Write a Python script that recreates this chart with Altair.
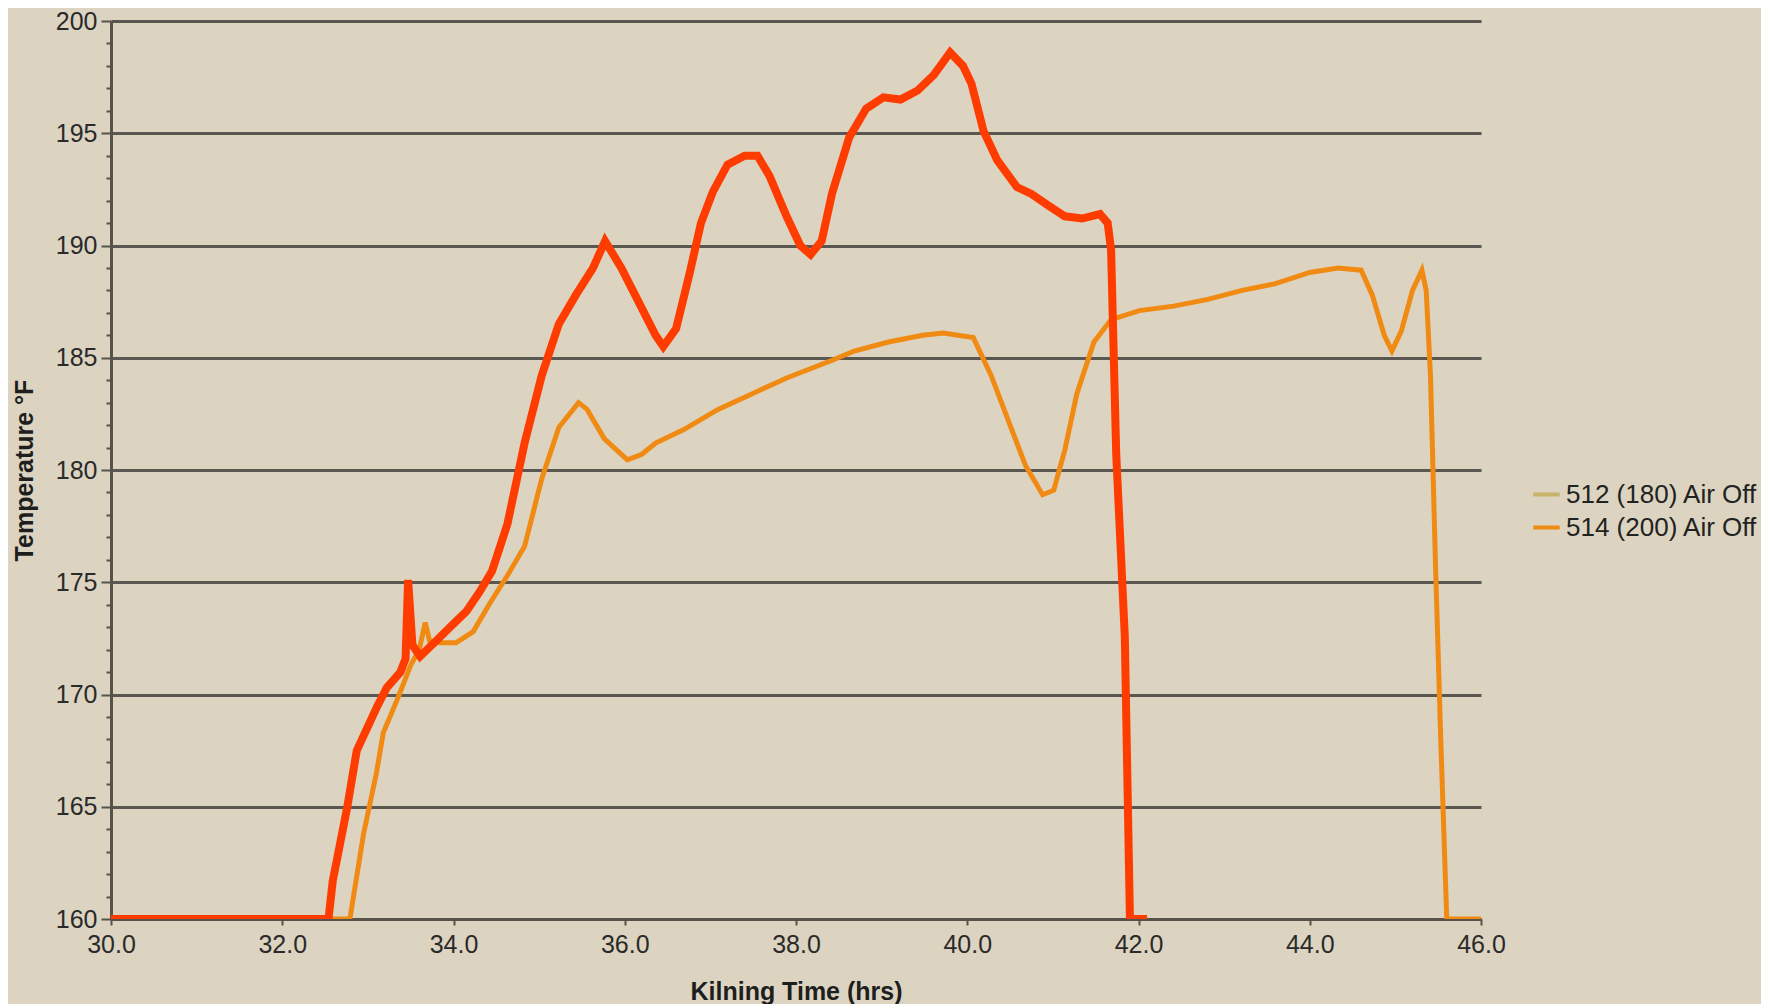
import altair as alt
import pandas as pd

# Red trace (not listed in the legend)
red_t = [30.0, 32.54, 32.59, 32.76, 32.87, 33.10, 33.22, 33.38, 33.44, 33.47, 33.52, 33.61,
         33.80, 33.96, 34.15, 34.31, 34.45, 34.63, 34.83, 35.03, 35.23, 35.43, 35.63, 35.77,
         35.96, 36.16, 36.36, 36.45, 36.60, 36.76, 36.89, 37.03, 37.20, 37.40, 37.55, 37.69,
         37.89, 38.05, 38.17, 38.30, 38.42, 38.62, 38.82, 39.02, 39.22, 39.42, 39.61, 39.80,
         39.95, 40.05, 40.19, 40.35, 40.58, 40.75, 40.94, 41.14, 41.34, 41.55, 41.64, 41.68,
         41.74, 41.84, 41.90, 42.10]
red_T = [160, 160, 161.7, 165.0, 167.5, 169.4, 170.3, 171.0, 171.6, 175.1, 172.2, 171.7,
         172.4, 173.0, 173.7, 174.6, 175.5, 177.6, 181.2, 184.2, 186.5, 187.8, 189.0, 190.2,
         189.0, 187.5, 186.0, 185.5, 186.3, 188.8, 191.0, 192.4, 193.6, 194.0, 194.0, 193.1,
         191.3, 190.0, 189.6, 190.2, 192.3, 194.8, 196.1, 196.6, 196.5, 196.9, 197.6, 198.6,
         198.0, 197.2, 195.1, 193.8, 192.6, 192.3, 191.8, 191.3, 191.2, 191.4, 191.0, 189.8,
         180.7, 172.6, 160, 160]

# Orange trace
org_t = [30.0, 32.79, 32.95, 33.10, 33.18, 33.34, 33.50, 33.60, 33.67, 33.72, 33.83, 34.03,
         34.23, 34.43, 34.63, 34.83, 35.03, 35.23, 35.46, 35.56, 35.76, 36.03, 36.20, 36.36,
         36.69, 37.09, 37.49, 37.89, 38.43, 38.68, 39.08, 39.48, 39.72, 40.07, 40.28, 40.48,
         40.68, 40.88, 41.01, 41.14, 41.28, 41.48, 41.68, 42.01, 42.41, 42.81, 43.21, 43.60,
         44.00, 44.33, 44.60, 44.73, 44.87, 44.96, 45.07, 45.20, 45.31, 45.36, 45.41, 45.47,
         45.53, 45.60, 46.0]
org_T = [160, 160, 163.8, 166.5, 168.3, 169.75, 171.3, 172.0, 173.2, 172.4, 172.3, 172.3,
         172.8, 174.1, 175.3, 176.6, 179.6, 181.9, 183.0, 182.7, 181.4, 180.45, 180.7, 181.2,
         181.8, 182.7, 183.4, 184.1, 184.9, 185.3, 185.7, 186.0, 186.1, 185.9, 184.2, 182.2,
         180.2, 178.9, 179.1, 180.9, 183.4, 185.7, 186.7, 187.1, 187.3, 187.6, 188.0, 188.3,
         188.8, 189.0, 188.9, 187.8, 186.0, 185.3, 186.2, 188.0, 188.9, 188.0, 184.2, 175.6,
         168.0, 160, 160]

series_names = ["512 (180) Air Off", "514 (200) Air Off"]
legend_colors = ["#C8B468", "#F08A12"]
red_color = "#FF3C00"
x_ticks = [30, 32, 34, 36, 38, 40, 42, 44, 46]
y_ticks = list(range(160, 201))

red_df = pd.DataFrame({"t": red_t, "T": red_T})
org_df = pd.DataFrame({"t": org_t, "T": org_T, "series": series_names[1]})

FONT = "Liberation Sans"
AXIS_COL = "#57534B"

x_enc = alt.X(
    "t:Q",
    scale=alt.Scale(domain=[30, 46], nice=False, zero=False),
    title="Kilning Time (hrs)",
    axis=alt.Axis(values=x_ticks, format=".1f", grid=False, tickSize=6,
                  labelPadding=7, titlePadding=22, labelFlush=False, labelOverlap=False),
)
major = "datum.value % 5 === 0"
y_enc = alt.Y(
    "T:Q",
    scale=alt.Scale(domain=[160, 200], nice=False, zero=False),
    title="Temperature °F",
    axis=alt.Axis(
        values=y_ticks, format="d",
        labelExpr="datum.value % 5 === 0 ? datum.label : ''",
        tickSize={"condition": {"test": major, "value": 10}, "value": 5},
        grid=True, gridColor="#5A5650", gridWidth=3,
        gridOpacity={"condition": {"test": major, "value": 1}, "value": 0},
        labelPadding=4, titlePadding=18, labelFlush=False, labelOverlap=False,
    ),
)

orange = alt.Chart(org_df).mark_line(strokeWidth=5, clip=True).encode(
    x=x_enc, y=y_enc,
    color=alt.Color(
        "series:N",
        scale=alt.Scale(domain=series_names, range=legend_colors),
        legend=alt.Legend(
            title=None, orient="none", legendX=1420, legendY=458,
            labelFont=FONT, labelFontSize=26, labelColor="#222222", labelLimit=0,
            symbolType="stroke", symbolStrokeWidth=4, symbolSize=700,
            rowPadding=4, labelOffset=4, padding=0,
        ),
    ),
)

red = alt.Chart(red_df).mark_line(strokeWidth=8, clip=True, color=red_color).encode(
    x=x_enc, y=y_enc
)

chart = (
    alt.layer(orange, red)
    .properties(
        width=1370, height=898,
        autosize=alt.AutoSizeParams(type="none"),
        padding={"left": 103, "top": 13, "right": 280, "bottom": 85},
        background="#DCD4C0",
    )
    .configure_view(strokeWidth=0)
    .configure_axis(
        domainColor=AXIS_COL, domainWidth=3, tickColor=AXIS_COL, tickWidth=2,
        labelFont=FONT, labelFontSize=25, labelColor="#2A2A2A",
        titleFont=FONT, titleFontSize=25, titleFontWeight="bold", titleColor="#1E1E1E",
    )
)

chart.save("out.html", embed_options={"renderer": "svg", "actions": False})
